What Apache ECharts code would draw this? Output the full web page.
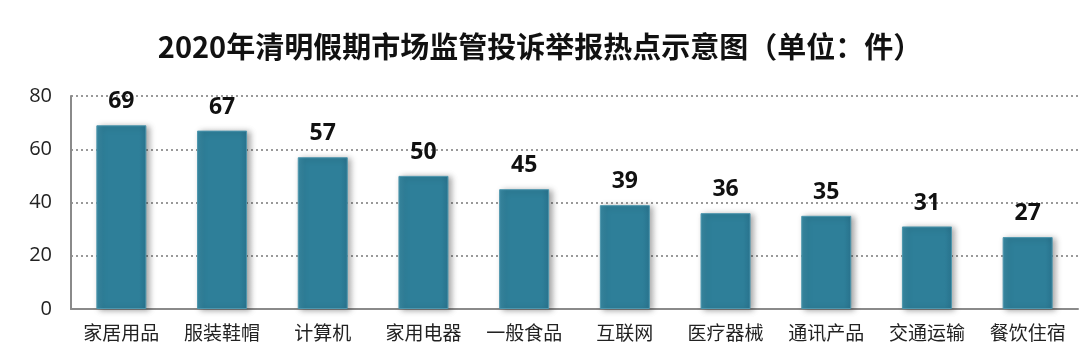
<!DOCTYPE html>
<html><head><meta charset="utf-8">
<script src="https://cdn.jsdelivr.net/npm/echarts@6/dist/echarts.min.js"></script>
<style>html,body{margin:0;padding:0;background:#fff}#c{width:1080px;height:359px}</style>
</head><body><div id="c"></div>
<script>
const categories = ['家居用品','服装鞋帽','计算机','家用电器','一般食品','互联网','医疗器械','通讯产品','交通运输','餐饮住宿'];
const values = [69,67,57,50,45,39,36,35,31,27];
const yTicks = {min:0,max:80,interval:20};
const chart = echarts.init(document.getElementById('c'));
chart.setOption({
  backgroundColor:'#fff',
  animation:false,
  title:{text:'2020年清明假期市场监管投诉举报热点示意图（单位：件）',left:'center',top:27,
    textStyle:{fontFamily:'"Noto Sans CJK SC"',fontWeight:'bold',fontSize:29,color:'#111'}},
  grid:{left:71,right:2,top:96,bottom:50},
  xAxis:{type:'category',data:categories,
    axisLine:{lineStyle:{color:'#8a8a8a',width:2}},axisTick:{show:false},
    axisLabel:{fontFamily:'"Noto Sans CJK SC"',fontSize:19,color:'#222',margin:14}},
  yAxis:{type:'value',min:yTicks.min,max:yTicks.max,interval:yTicks.interval,
    axisLine:{show:true,lineStyle:{color:'#8a8a8a',width:2}},axisTick:{show:false},
    axisLabel:{fontFamily:'"Open Sans"',fontSize:20,color:'#222',margin:19}},
  series:[{type:'bar',data:values,barWidth:50,
    itemStyle:{color:{type:'linear',x:0,y:0,x2:1,y2:0,colorStops:[
      {offset:0,color:'#3a8aa3'},{offset:0.15,color:'#2e7f99'},{offset:0.85,color:'#2e7f99'},{offset:1,color:'#2a7590'}]},
      borderColor:'#4d96ad',borderWidth:1,
      shadowColor:'rgba(0,0,0,0.35)',shadowBlur:6,shadowOffsetX:3,shadowOffsetY:1},
    label:{show:true,position:'top',distance:12,fontFamily:'"Open Sans"',fontWeight:'bold',fontSize:23,color:'#111'}}]
});
chart.setOption({yAxis:{splitLine:{show:true,lineStyle:{color:'#999',type:[2,3],width:2}}}});
</script></body></html>
